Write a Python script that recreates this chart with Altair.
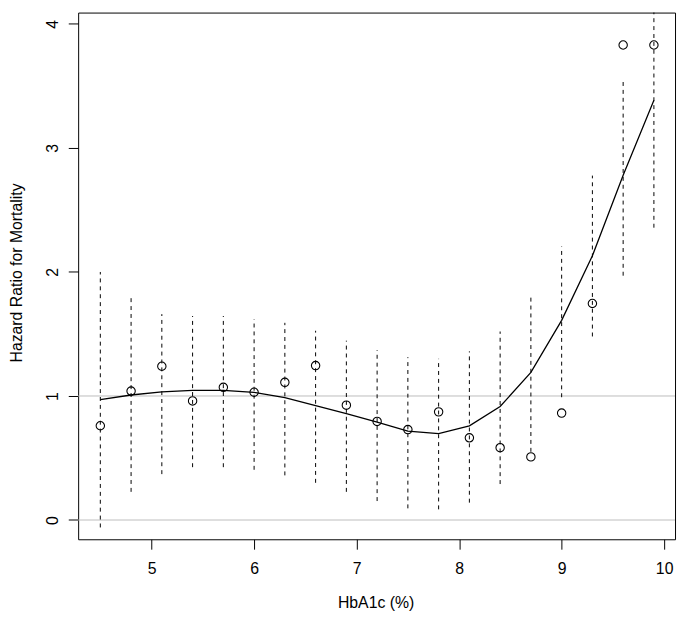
import altair as alt
import pandas as pd

hba1c = [4.5, 4.8, 5.1, 5.4, 5.7, 6.0, 6.3, 6.6, 6.9, 7.2, 7.5, 7.8, 8.1, 8.4, 8.7, 9.0, 9.3, 9.6, 9.9]
hr_obs = [0.76, 1.04, 1.24, 0.96, 1.07, 1.03, 1.11, 1.245, 0.926, 0.795, 0.729, 0.872, 0.663, 0.583, 0.509, 0.862, 1.746, 3.83, 3.83]
ci_low = [-0.06, 0.227, 0.37, 0.426, 0.426, 0.405, 0.36, 0.30, 0.227, 0.153, 0.094, 0.086, 0.14, 0.29, 0.55, 0.99, 1.48, 1.97, 2.357]
ci_high = [2.0, 1.79, 1.66, 1.645, 1.645, 1.62, 1.59, 1.526, 1.446, 1.37, 1.313, 1.30, 1.36, 1.52, 1.80, 2.205, 2.777, 3.534, 4.3]
hr_fit = [0.97, 1.008, 1.034, 1.045, 1.045, 1.03, 0.987, 0.923, 0.857, 0.79, 0.716, 0.697, 0.759, 0.915, 1.19, 1.61, 2.13, 2.78, 3.385]
ref_lines = [0, 1]
x_ticks = [5, 6, 7, 8, 9, 10]
y_ticks = [0, 1, 2, 3, 4]

df = pd.DataFrame({"x": hba1c, "hr": hr_obs, "lo": ci_low, "hi": ci_high, "fit": hr_fit})
ref = pd.DataFrame({"y": ref_lines})

FONT = "Liberation Sans"

xscale = alt.Scale(domain=[4.2838, 10.106], nice=False, zero=False)
yscale = alt.Scale(domain=[-0.1554, 4.0916], nice=False, zero=False)

xax = alt.Axis(values=x_ticks, title="HbA1c (%)", grid=False, domain=False,
               tickColor="black", tickSize=10, tickWidth=1,
               labelFont=FONT, labelFontSize=16, labelColor="black", labelPadding=12,
               titleFont=FONT, titleFontSize=16, titleFontWeight="normal", titleColor="black",
               titleX=301, titleY=69.5, titleBaseline="alphabetic", titleAlign="center")
yax = alt.Axis(values=y_ticks, title="Hazard Ratio for Mortality", grid=False, domain=False,
               tickColor="black", tickSize=10, tickWidth=1,
               labelFont=FONT, labelFontSize=16, labelColor="black", labelAngle=270,
               labelAlign="center", labelBaseline="alphabetic", labelPadding=11,
               titleFont=FONT, titleFontSize=16, titleFontWeight="normal", titleColor="black",
               titleAngle=270, titleX=-57.5, titleY=263, titleBaseline="alphabetic", titleAlign="center")

refs = alt.Chart(ref).mark_rule(color="#bdbdbd", strokeWidth=1).encode(
    y=alt.Y("y:Q", scale=yscale, axis=yax)
)

ci = alt.Chart(df).mark_rule(color="black", strokeWidth=1, strokeDash=[4, 4], clip=True).encode(
    x=alt.X("x:Q", scale=xscale, axis=xax),
    y=alt.Y("lo:Q", scale=yscale, axis=yax),
    y2="hi:Q",
)

fit = alt.Chart(df).mark_line(color="black", strokeWidth=1.3, clip=True).encode(
    x=alt.X("x:Q", scale=xscale, axis=xax),
    y=alt.Y("fit:Q", scale=yscale, axis=yax),
)

pts = alt.Chart(df).mark_point(shape="circle", filled=False, color="black", size=72, strokeWidth=1.1, opacity=1, clip=True).encode(
    x=alt.X("x:Q", scale=xscale, axis=xax),
    y=alt.Y("hr:Q", scale=yscale, axis=yax),
)

chart = alt.layer(refs, ci, fit, pts).properties(
    width=604, height=533,
    autosize=alt.AutoSizeParams(type="none"),
    padding={"left": 71, "top": 1, "right": 2, "bottom": 74},
    background="white",
).configure_view(stroke="black", strokeWidth=1)

chart.save("out.html", embed_options={"renderer": "svg", "actions": False})
